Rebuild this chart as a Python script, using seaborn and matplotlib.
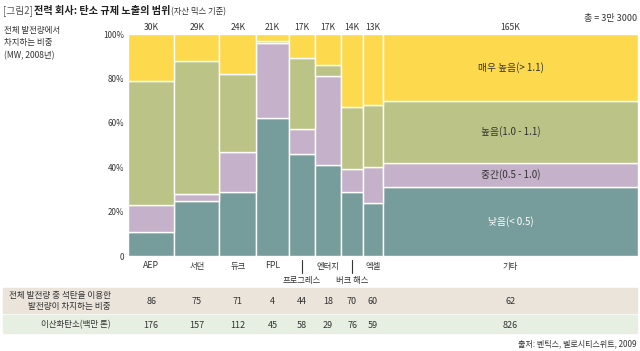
import numpy as np
import pandas as pd
import matplotlib
matplotlib.use("Agg")
import matplotlib.pyplot as plt
import matplotlib.transforms as mtransforms
import seaborn as sns

# ---------------- data ----------------
companies = ["AEP", "서던", "듀크", "FPL", "프로그레스", "엔터지", "버크 해스", "엑셀", "기타"]
capacity_k = [30, 29, 24, 21, 17, 17, 14, 13, 165]
cap_labels = ["30K", "29K", "24K", "21K", "17K", "17K", "14K", "13K", "165K"]
low = [11, 25, 29, 62, 46, 41, 29, 24, 31]         # 낮음(< 0.5)
mid = [12, 3, 18, 34, 11, 40, 10, 16, 11]          # 중간(0.5 - 1.0)
high = [56, 60, 35, 1, 32, 5, 28, 28, 28]          # 높음(1.0 - 1.1)
very_high = [21, 12, 18, 3, 11, 14, 33, 32, 30]    # 매우 높음(> 1.1)
cat_names = ["매우 높음(> 1.1)", "높음(1.0 - 1.1)", "중간(0.5 - 1.0)", "낮음(< 0.5)"]
coal_share = [86, 75, 71, 4, 44, 18, 70, 60, 62]
co2_mt = [176, 157, 112, 45, 58, 29, 76, 59, 826]
yticks = [0, 20, 40, 60, 80, 100]
ytick_labels = ["0", "20%", "40%", "60%", "80%", "100%"]

colors = {"매우 높음(> 1.1)": "#FDD94E", "높음(1.0 - 1.1)": "#BCC386",
          "중간(0.5 - 1.0)": "#C5B1C9", "낮음(< 0.5)": "#769C9B"}

# ---------------- figure ----------------
sns.set_style("white")
plt.rcParams["font.family"] = ["Noto Sans CJK KR", "DejaVu Sans"]
W, H = 640, 351
fig = plt.figure(figsize=(W / 100, H / 100), dpi=100)

def fx(px):
    return px / W

def fy(py):
    return 1 - py / H

# table row backgrounds (behind everything)
fig.patches.append(plt.Rectangle((fx(3), fy(313)), fx(637) - fx(3), fy(288) - fy(313),
                                 transform=fig.transFigure, color="#EAE4DA", zorder=-10))
fig.patches.append(plt.Rectangle((fx(3), fy(333)), fx(637) - fx(3), fy(315) - fy(333),
                                 transform=fig.transFigure, color="#E6EFE1", zorder=-10))

ax = fig.add_axes([fx(128), fy(256), fx(638) - fx(128), fy(34) - fy(256)])
ax.patch.set_alpha(0)

edges = [0.0] + [float(v) for v in np.cumsum(capacity_k)]
centers = [(a + b) / 2 for a, b in zip(edges[:-1], edges[1:])]

series = {"매우 높음(> 1.1)": very_high, "높음(1.0 - 1.1)": high,
          "중간(0.5 - 1.0)": mid, "낮음(< 0.5)": low}
rows = []
for cat in cat_names:
    for c, v in zip(centers, series[cat]):
        rows.append({"x": c, "w": v, "cat": cat})
df = pd.DataFrame(rows)

sns.histplot(data=df, x="x", weights="w", hue="cat", hue_order=cat_names,
             bins=edges, multiple="stack", palette=colors, alpha=1,
             edgecolor="white", linewidth=1.0, legend=False, ax=ax)

ax.set_xlim(edges[0], edges[-1])
ax.set_ylim(0, 100)
ax.set_xlabel("")
ax.set_ylabel("")
ax.set_xticks([])
ax.set_yticks(yticks)
ax.set_yticklabels(ytick_labels, fontsize=5.8, color="#333333")
ax.tick_params(axis="y", length=0, pad=2.5)
for s in ax.spines.values():
    s.set_visible(False)

TXT = "#333333"

# category labels inside the last bar
last = len(companies) - 1
stack_vals = [low[last], mid[last], high[last], very_high[last]]
stack_names = ["낮음(< 0.5)", "중간(0.5 - 1.0)", "높음(1.0 - 1.1)", "매우 높음(> 1.1)"]
base = 0
for nm, v in zip(stack_names, stack_vals):
    ax.text(centers[last], base + v / 2, nm, ha="center", va="center", fontsize=7,
            color="white" if nm.startswith("낮음") else TXT)
    base += v

# capacity labels above bars
bt = mtransforms.blended_transform_factory(ax.transData, fig.transFigure)
for c, lab in zip(centers, cap_labels):
    ax.text(c, fy(27.5), lab, transform=bt, ha="center", va="center", fontsize=6.2, color=TXT)

# company labels
for c, name in zip(centers, companies):
    fs = 6.3 if name.isascii() else 6.0
    if name in ("프로그레스", "버크 해스"):
        ax.plot([c, c], [fy(260), fy(273)], transform=bt, color=TXT, lw=0.8, clip_on=False)
        ax.text(c, fy(280), name, transform=bt, ha="center", va="center", fontsize=fs, color=TXT)
    else:
        ax.text(c, fy(266), name, transform=bt, ha="center", va="center", fontsize=fs, color=TXT)

# table texts
fig.text(fx(111), fy(301), "전체 발전량 중 석탄을 이용한\n발전량이 차지하는 비중", ha="right", va="center",
         fontsize=6.2, color=TXT, linespacing=1.3)
fig.text(fx(111), fy(324.5), "이산화탄소(백만 톤)", ha="right", va="center", fontsize=6.1, color=TXT)
for c, v1, v2 in zip(centers, coal_share, co2_mt):
    ax.text(c, fy(302), str(v1), transform=bt, ha="center", va="center", fontsize=6.5, color=TXT)
    ax.text(c, fy(325), str(v2), transform=bt, ha="center", va="center", fontsize=6.5, color=TXT)

# y description
fig.text(fx(4), fy(26), "전체 발전량에서\n차지하는 비중\n(MW, 2008년)", ha="left", va="top",
         fontsize=6.1, color=TXT, linespacing=1.5)

# total
fig.text(fx(637), fy(19), "총 = 3만 3000", ha="right", va="center", fontsize=6.5, color=TXT)

# source
fig.text(fx(637), fy(344), "출처: 벤틱스, 벨로시티스위트, 2009", ha="right", va="center",
         fontsize=5.8, color=TXT)

# title (three parts)
fig.canvas.draw()
r = fig.canvas.get_renderer()
t1 = fig.text(fx(3), fy(11), "[그림2]", ha="left", va="center", fontsize=7, color="#555555")
bb = t1.get_window_extent(r)
t2 = fig.text(bb.x1 / W + fx(1.5), fy(11), "전력 회사: 탄소 규제 노출의 범위", ha="left", va="center",
              fontsize=7.3, fontweight="bold", color="#222222")
bb2 = t2.get_window_extent(r)
fig.text(bb2.x1 / W, fy(11.5), "(자산 믹스 기준)", ha="left", va="center", fontsize=6, color=TXT)

fig.savefig("out.png", dpi=100)
